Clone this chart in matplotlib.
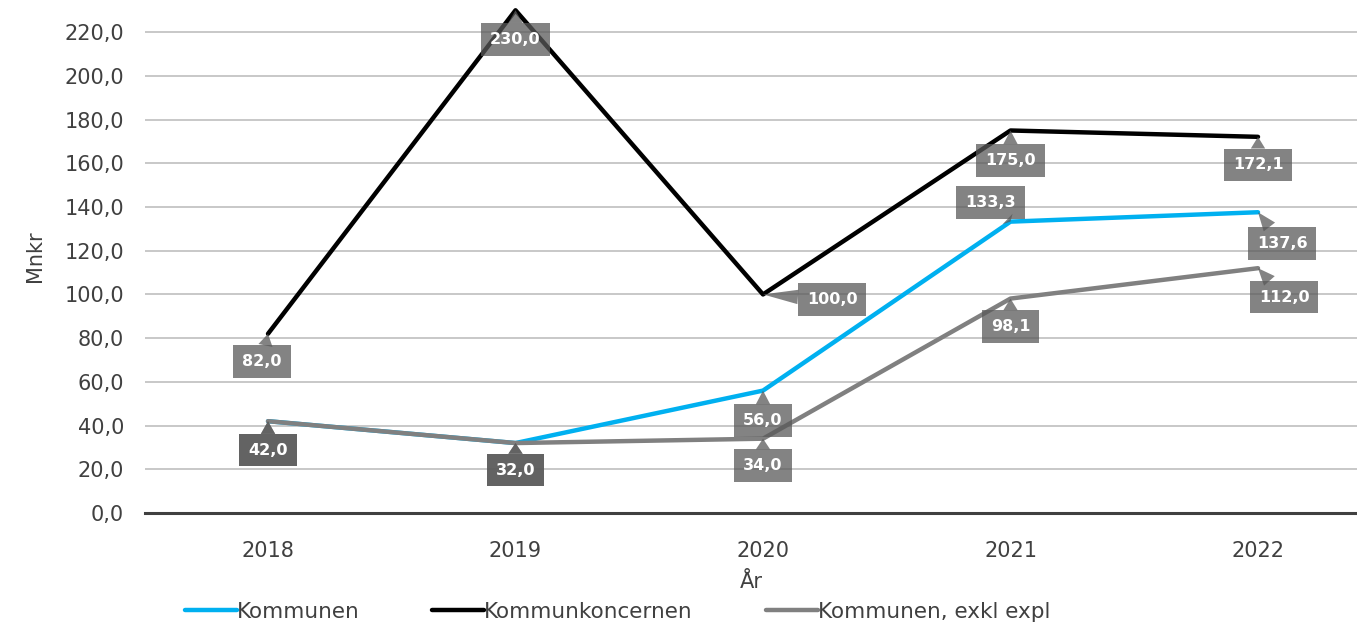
import matplotlib

matplotlib.use("Agg")
import matplotlib.pyplot as plt  # noqa: E402
from matplotlib.ticker import FuncFormatter, MultipleLocator  # noqa: E402

years = ["2018", "2019", "2020", "2021", "2022"]
kommunen = [42.0, 32.0, 56.0, 133.3, 137.6]
koncernen = [82.0, 230.0, 100.0, 175.0, 172.1]
exkl_expl = [42.0, 32.0, 34.0, 98.1, 112.0]
series_names = ["Kommunen", "Kommunkoncernen", "Kommunen, exkl expl"]

BLUE = "#00B0F0"
BLACK = "#000000"
GRAY = "#808080"
TEXT = "#404040"
GRID = "#c4c4c4"
BOX = "#595959"

# label offsets in pixels (dx, dy) from each point, per series
label_offsets = {
    "Kommunen": [(0, -29), (0, -27), (0, -30), (-20, 19), (24, -31)],
    "Kommunkoncernen": [(-6, -28), (0, -29), (69, -5), (0, -30), (0, -28)],
    "Kommunen, exkl expl": [(0, -29), (0, -27), (0, -27), (0, -28), (26, -29)],
}

plt.rcParams.update({"font.family": "DejaVu Sans"})

fig = plt.figure(figsize=(13.57, 6.28), dpi=100)
ax = fig.add_axes([145 / 1357, 115 / 628, 1 - 145 / 1357, 513 / 628])

x = list(range(len(years)))
data = [(series_names[0], kommunen, BLUE),
        (series_names[1], koncernen, BLACK),
        (series_names[2], exkl_expl, GRAY)]
for name, vals, color in data:
    ax.plot(x, vals, color=color, lw=3.2, label=name, zorder=3,
            solid_capstyle="round", clip_on=False)

for name, vals, color in data:
    for i, v in enumerate(vals):
        dx, dy = label_offsets[name][i]
        ax.annotate(f"{v:.1f}".replace(".", ","), (i, v), xytext=(dx, dy),
                    textcoords="offset pixels", ha="center", va="center",
                    fontsize=11.5, fontweight="bold", color="white", zorder=5,
                    bbox=dict(boxstyle="square,pad=0.55", fc=BOX, ec="none",
                              alpha=0.75),
                    arrowprops=dict(arrowstyle="wedge,tail_width=0.9",
                                    fc=BOX, ec="none", alpha=0.75,
                                    shrinkA=0, shrinkB=0))

ax.set_xlim(-0.497, 4.40)
ax.set_ylim(0, 234.7)
ax.set_xticks(x)
ax.set_xticklabels(years)
ax.yaxis.set_major_locator(MultipleLocator(20))
ax.yaxis.set_major_formatter(FuncFormatter(lambda v, p: f"{v:.1f}".replace(".", ",")))
ax.tick_params(length=0, labelsize=15, colors=TEXT)
ax.tick_params(axis="x", pad=20)
ax.tick_params(axis="y", pad=15)
ax.grid(axis="y", color=GRID, lw=1.3)
ax.set_axisbelow(True)
for side in ("top", "right", "left"):
    ax.spines[side].set_visible(False)
ax.spines["bottom"].set_color(TEXT)
ax.spines["bottom"].set_linewidth(2.2)
ax.spines["bottom"].set_zorder(4)

ax.set_xlabel("År", fontsize=15, color=TEXT, labelpad=8)
ax.set_ylabel("Mnkr", fontsize=15, color=TEXT, labelpad=14)

fig.legend(loc="center", bbox_to_anchor=(0.455, 16 / 628), ncol=3, frameon=False,
           fontsize=15.5, handlelength=2.4, handletextpad=0.0, columnspacing=3.4,
           labelcolor=TEXT)

fig.savefig("out.png", dpi=100, facecolor="white")
